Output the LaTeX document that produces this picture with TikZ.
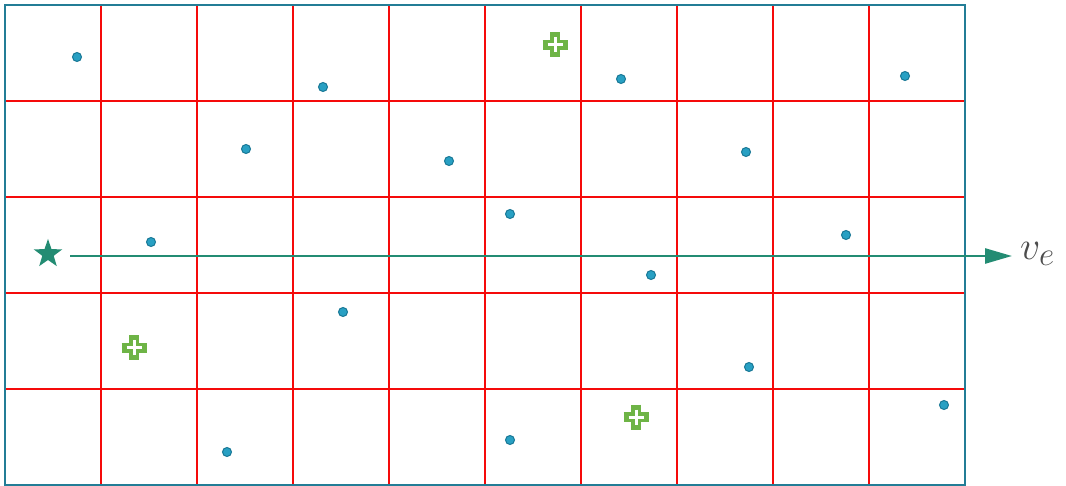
\documentclass[tikz,border=0pt]{standalone}
\usepackage{graphicx}
\usetikzlibrary{positioning,arrows.meta,shapes.geometric}
\definecolor{gridred}{RGB}{245,10,10}
\definecolor{frameblue}{RGB}{35,125,150}
\definecolor{dotblue}{RGB}{40,160,195}
\definecolor{dotedge}{RGB}{25,120,150}
\definecolor{startgreen}{RGB}{35,140,115}
\definecolor{plusgreen}{RGB}{110,180,70}
\tikzset{
  cell/.style={gridred,line width=1.9pt},
  sample/.style={circle,fill=dotblue,draw=dotedge,line width=1pt,inner sep=0pt,minimum size=9pt},
  plusmark/.pic={
    \draw[plusgreen,line width=10pt] (-12.5,0) -- (12.5,0) (0,-12.5) -- (0,12.5);
    \draw[white,line width=3pt] (-7.5,0) -- (7.5,0) (0,-7.5) -- (0,7.5);
  }
}
\begin{document}
\begin{tikzpicture}[x=1pt,y=-1pt]
            \useasboundingbox (0,0) rectangle (1066,486);
            % Raster
            \foreach \x in {101,197,...,869}{
                \draw[cell] (\x,5) -- (\x,485);
            }
            \foreach \y in {101,197,293,389}{
                \draw[cell] (5,\y) -- (965,\y);
            }
            \draw[frameblue,line width=2.6pt] (5,5) rectangle (965,485);
            % Punkte
            \foreach \x/\y [count=\i] in {77/57,323/87,621/79,905/76,246/149,449/161,746/152,
                510/214,151/242,846/235,651/275,343/312,749/367,944/405,510/440,227/452}{
                \node[sample] (p\i) at (\x,\y) {};
            }
            % Kreuze
            \pic (q1) at (555,45) {plusmark};
            \pic (q2) at (134,348) {plusmark};
            \pic (q3) at (636,417) {plusmark};
            % Start und Richtung
            \node[star,star points=5,star point ratio=2.5,fill=startgreen,inner sep=0pt,minimum size=30pt] (start) at (48,254) {};
            \coordinate (vfrom) at (70,256);
            \node[text=black!70,anchor=west,inner sep=0pt] (ve) at (1020,254) {\scalebox{1.6}{\Huge$v_e$}};
            \draw[startgreen,line width=2.6pt,-{Triangle[length=27pt,width=15pt]}] (vfrom) -- ([xshift=-8pt]vfrom -| ve.west);
        \end{tikzpicture}
\end{document}
